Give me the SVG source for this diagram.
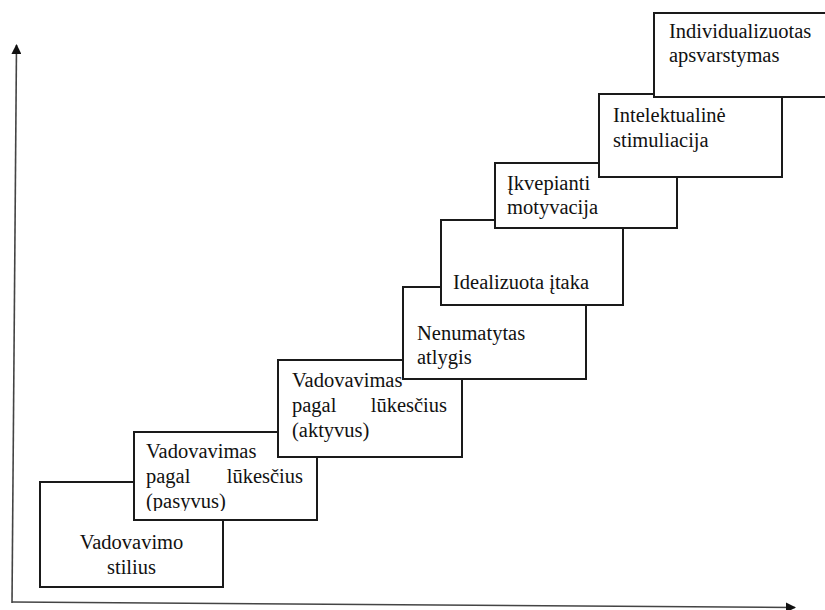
<svg xmlns="http://www.w3.org/2000/svg" width="825" height="610" viewBox="0 0 825 610">
<defs>
<style>
.box{fill:#fff;stroke:#1a1a1a;stroke-width:2}
.t{font-family:"Liberation Serif","Times New Roman",serif;font-size:20.5px;fill:#111}
.ax{stroke:#444;stroke-width:1.6;fill:none}
</style>
<marker id="ah" markerWidth="10" markerHeight="10" refX="9" refY="5" orient="auto" markerUnits="userSpaceOnUse"><path d="M0,0 L10,5 L0,10 Z" fill="#111"/></marker>
<clipPath id="clipP"><rect x="130" y="430" width="190" height="81"/></clipPath>
</defs>
<rect width="825" height="610" fill="#fff"/>
<g id="axes">
<line class="ax" x1="12" y1="603" x2="16.5" y2="45" marker-end="url(#ah)"/>
<line class="ax" x1="12" y1="602" x2="795" y2="607.5" marker-end="url(#ah)"/>
</g>
<g id="n1"><rect class="box" x="40" y="482" width="183" height="105"/>
<text class="t" x="131.5" y="549" text-anchor="middle">Vadovavimo</text>
<text class="t" x="131.5" y="574" text-anchor="middle">stilius</text></g>
<g id="n2"><rect class="box" x="134" y="432" width="183" height="88"/>
<text class="t" x="146" y="458">Vadovavimas</text>
<text class="t" x="146" y="483">pagal</text>
<text class="t" x="303" y="483" text-anchor="end">lūkesčius</text>
<text class="t" x="146" y="508" clip-path="url(#clipP)">(pasyvus)</text></g>
<g id="n3"><rect class="box" x="278" y="360" width="184" height="97"/>
<text class="t" x="292" y="387">Vadovavimas</text>
<text class="t" x="292" y="412">pagal</text>
<text class="t" x="447" y="412" text-anchor="end">lūkesčius</text>
<text class="t" x="292" y="437">(aktyvus)</text></g>
<g id="n4"><rect class="box" x="403" y="287" width="183" height="92"/>
<text class="t" x="417" y="340">Nenumatytas</text>
<text class="t" x="417" y="364">atlygis</text></g>
<g id="n5"><rect class="box" x="441" y="220" width="182" height="85"/>
<text class="t" x="453" y="289">Idealizuota įtaka</text></g>
<g id="n6"><rect class="box" x="495" y="163" width="182" height="65"/>
<text class="t" x="507" y="190">Įkvepianti</text>
<text class="t" x="507" y="214">motyvacija</text></g>
<g id="n7"><rect class="box" x="599" y="94" width="183" height="83"/>
<text class="t" x="613" y="122">Intelektualinė</text>
<text class="t" x="613" y="147">stimuliacija</text></g>
<g id="n8"><rect class="box" x="654" y="13" width="190" height="84"/>
<text class="t" x="669" y="38">Individualizuotas</text>
<text class="t" x="669" y="62">apsvarstymas</text></g>
</svg>
